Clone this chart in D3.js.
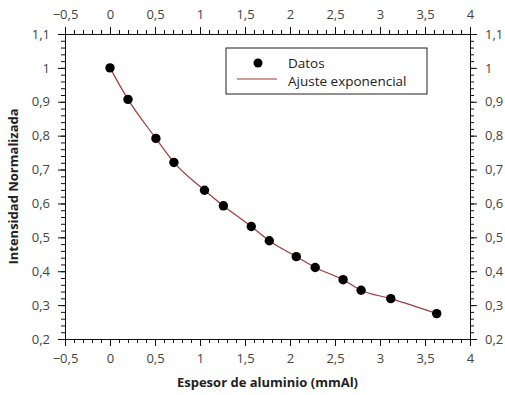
<!DOCTYPE html>
<html>
<head>
<meta charset="utf-8">
<script src="https://cdn.jsdelivr.net/npm/d3@7"></script>
<style>
  body { margin: 0; background: #fff; }
  text { font-family: "Open Sans", sans-serif; }
</style>
</head>
<body>
<div id="chart"></div>
<script>
// datos
var espesor = [0, 0.2, 0.51, 0.71, 1.05, 1.26, 1.57, 1.77, 2.07, 2.28, 2.59, 2.79, 3.12, 3.63];
var intensidad = [1.0, 0.907, 0.792, 0.721, 0.639, 0.593, 0.532, 0.490, 0.443, 0.411, 0.375, 0.344, 0.319, 0.275];
var xTicks = [-0.5, 0, 0.5, 1, 1.5, 2, 2.5, 3, 3.5, 4];
var yTicks = [0.2, 0.3, 0.4, 0.5, 0.6, 0.7, 0.8, 0.9, 1, 1.1];
var legendNames = ["Datos", "Ajuste exponencial"];

var W = 505, H = 395;
var margin = {top: 34, right: 35, bottom: 56, left: 65},
  width = W - margin.left - margin.right,
  height = H - margin.top - margin.bottom;

var svg = d3.select("#chart")
  .append("svg")
    .attr("width", W)
    .attr("height", H)
  .append("g")
    .attr("transform", "translate(" + margin.left + "," + margin.top + ")");

var x = d3.scaleLinear().domain([-0.5, 4]).range([0, width]);
var y = d3.scaleLinear().domain([0.2, 1.1]).range([height, 0]);

var locale = d3.formatLocale({decimal: ",", thousands: ".", grouping: [3], currency: ["", ""], minus: "\u2212"});
var fmt = locale.format("");

var xMinor = d3.range(-0.5, 4.001, 0.1).map(function(v){ return +v.toFixed(2); });
var yMinor = d3.range(0.2, 1.1001, 0.02).map(function(v){ return +v.toFixed(2); });

function styleAxis(g) {
  g.select(".domain").attr("stroke", "#111").attr("stroke-width", 1);
  g.selectAll(".tick line").attr("stroke", "#111");
  g.selectAll(".tick text").attr("fill", "#444").style("font-size", "13px");
}

// ejes: minor ticks primero, luego mayores con etiquetas
var axes = [
  {f: d3.axisBottom, s: x, t: xTicks, m: xMinor, tr: "translate(0," + height + ")"},
  {f: d3.axisTop, s: x, t: xTicks, m: xMinor, tr: "translate(0,0)"},
  {f: d3.axisLeft, s: y, t: yTicks, m: yMinor, tr: "translate(0,0)"},
  {f: d3.axisRight, s: y, t: yTicks, m: yMinor, tr: "translate(" + width + ",0)"}
];
axes.forEach(function(a) {
  svg.append("g")
    .attr("transform", a.tr)
    .call(a.f(a.s).tickValues(a.m).tickSize(4).tickFormat(""))
    .call(styleAxis);
  svg.append("g")
    .attr("transform", a.tr)
    .call(a.f(a.s).tickValues(a.t).tickSize(7).tickPadding(8).tickFormat(fmt))
    .call(styleAxis);
});

// curva de ajuste
var line = d3.line()
  .x(function(d, i){ return x(espesor[i]); })
  .y(function(d){ return y(d); })
  .curve(d3.curveMonotoneX);

svg.append("path")
  .datum(intensidad)
  .attr("d", line)
  .attr("fill", "none")
  .attr("stroke", "#a33a3a")
  .attr("stroke-width", 1.2);

// puntos
svg.selectAll("circle.dato")
  .data(intensidad)
  .enter()
  .append("circle")
    .attr("class", "dato")
    .attr("cx", function(d, i){ return x(espesor[i]); })
    .attr("cy", function(d){ return y(d); })
    .attr("r", 4.7)
    .attr("fill", "#000");

// titulos
svg.append("text")
  .attr("x", width / 2)
  .attr("y", height + 48)
  .attr("text-anchor", "middle")
  .style("font-size", "13px")
  .style("font-weight", "bold")
  .attr("fill", "#222")
  .text("Espesor de aluminio (mmAl)");

svg.append("text")
  .attr("transform", "translate(" + (-47) + "," + (height / 2) + ") rotate(-90)")
  .attr("text-anchor", "middle")
  .style("font-size", "13px")
  .style("font-weight", "bold")
  .attr("fill", "#222")
  .text("Intensidad Normalizada");

// leyenda
var leg = svg.append("g").attr("transform", "translate(" + (226 - margin.left) + "," + (48 - margin.top) + ")");
leg.append("rect")
  .attr("width", 201)
  .attr("height", 46)
  .attr("fill", "#fff")
  .attr("stroke", "#222")
  .attr("stroke-width", 1);
leg.append("circle").attr("cx", 32).attr("cy", 15).attr("r", 4.5).attr("fill", "#000");
leg.append("line").attr("x1", 11).attr("x2", 51).attr("y1", 31).attr("y2", 31)
  .attr("stroke", "#a33a3a").attr("stroke-width", 1.2);
leg.selectAll("text.leg")
  .data(legendNames)
  .enter()
  .append("text")
    .attr("class", "leg")
    .attr("x", 62)
    .attr("y", function(d, i){ return 20 + i * 18; })
    .style("font-size", "13.5px")
    .attr("fill", "#222")
    .text(function(d){ return d; });
</script>
</body>
</html>
